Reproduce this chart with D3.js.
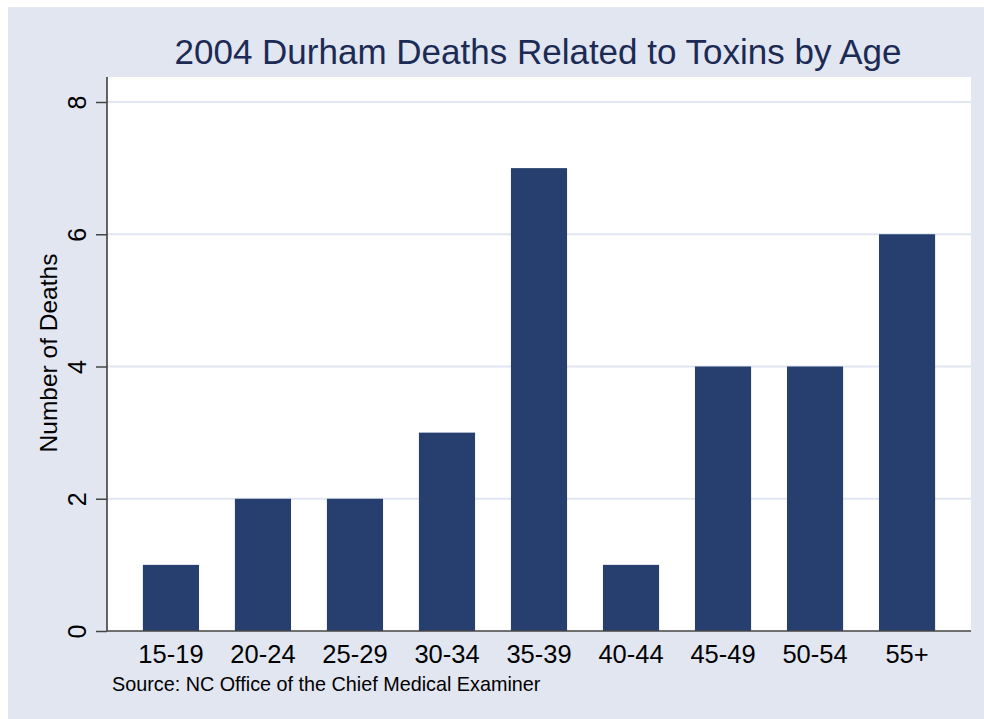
<!DOCTYPE html>
<html>
<head>
<meta charset="utf-8">
<script src="https://cdn.jsdelivr.net/npm/d3@7"></script>
<style>
  body { margin: 0; background: #ffffff; }
  text { font-family: Arial, "Liberation Sans", sans-serif; }
</style>
</head>
<body>
<div id="chart"></div>
<script>
var w = 984;
var h = 719;

var ages = ["15-19", "20-24", "25-29", "30-34", "35-39", "40-44", "45-49", "50-54", "55+"];
var deaths = [1, 2, 2, 3, 7, 1, 4, 4, 6];
var yTicks = [0, 2, 4, 6, 8];

var bgCol = "#e1e6f0";
var barCol = "#263f6e";

var svg = d3.select("#chart").append("svg").attr("width", w).attr("height", h);

// graph region
svg.append("rect").attr("x", 8).attr("y", 7).attr("width", w - 8).attr("height", h - 7).attr("fill", bgCol);

// plot region
var pLeft = 107, pRight = 971, pTop = 77, pBottom = 631;
svg.append("rect").attr("x", pLeft).attr("y", pTop).attr("width", pRight - pLeft).attr("height", pBottom - pTop).attr("fill", "#ffffff");

var x = d3.scaleBand().domain(ages).range([pLeft, pRight]).paddingInner(0.39).paddingOuter(0.39);
var y = d3.scaleLinear().domain([0, 8]).range([pBottom, 102]);

// grid
svg.selectAll(".grid").data(yTicks.filter(function(d) { return d > 0; })).enter().append("line")
  .attr("x1", pLeft).attr("x2", pRight)
  .attr("y1", function(d) { return y(d); }).attr("y2", function(d) { return y(d); })
  .attr("stroke", bgCol).attr("stroke-width", 2);

// bars
svg.selectAll(".bar").data(deaths).enter().append("rect")
  .attr("x", function(d, i) { return x(ages[i]); })
  .attr("y", function(d) { return y(d); })
  .attr("width", x.bandwidth())
  .attr("height", function(d) { return y(0) - y(d); })
  .attr("fill", barCol);

// y axis
var yAxis = svg.append("g").attr("transform", "translate(" + pLeft + ",0)")
  .call(d3.axisLeft(y).tickValues(yTicks).tickSize(11));
yAxis.select(".domain").attr("stroke", "#333333").attr("stroke-width", 1.5).attr("d", "M0," + pTop + "V" + pBottom);
yAxis.selectAll(".tick line").attr("stroke", "#444444").attr("stroke-width", 1.5);
yAxis.selectAll(".tick text")
  .attr("font-size", 25).attr("fill", "#000")
  .attr("text-anchor", "middle")
  .attr("transform", "rotate(-90)")
  .attr("x", 0).attr("y", -21).attr("dy", 0);

// x axis baseline
svg.append("line").attr("x1", pLeft).attr("x2", pRight).attr("y1", pBottom).attr("y2", pBottom)
  .attr("stroke", "#444444").attr("stroke-width", 1.5);

var xAxis = svg.append("g").attr("transform", "translate(0," + pBottom + ")")
  .call(d3.axisBottom(x).tickSize(0).tickPadding(0));
xAxis.select(".domain").remove();
xAxis.selectAll(".tick text").attr("font-size", 25.5).attr("fill", "#000").attr("dy", 0).attr("y", 32);

// title
svg.append("text").text("2004 Durham Deaths Related to Toxins by Age")
  .attr("x", 538).attr("y", 64).attr("text-anchor", "middle")
  .attr("font-size", 35).attr("fill", "#1c2b55");

// y title
svg.append("text").text("Number of Deaths")
  .attr("transform", "translate(57,353) rotate(-90)")
  .attr("text-anchor", "middle").attr("font-size", 24.5).attr("fill", "#000");

// note
svg.append("text").text("Source: NC Office of the Chief Medical Examiner")
  .attr("x", 112).attr("y", 691).attr("font-size", 19.8).attr("fill", "#000");
</script>
</body>
</html>
